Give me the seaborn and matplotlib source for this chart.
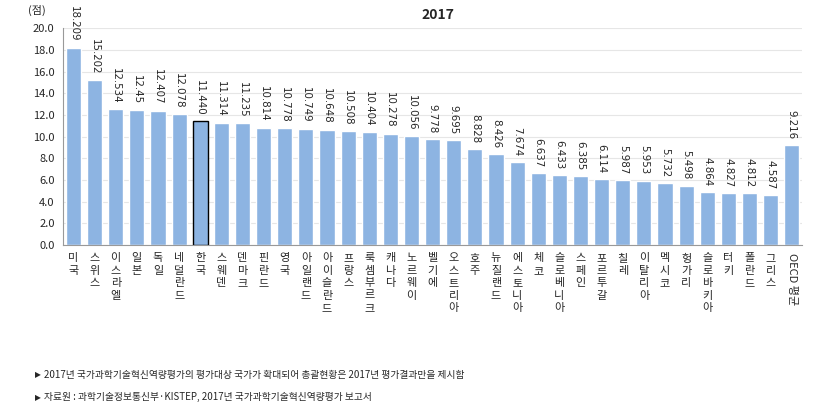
import numpy as np
import pandas as pd
import matplotlib
matplotlib.use('Agg')
import matplotlib.pyplot as plt
import seaborn as sns

countries = ['미국', '스위스', '이스라엘', '일본', '독일', '네덜란드', '한국', '스웨덴', '덴마크',
             '핀란드', '영국', '아일랜드', '아이슬란드', '프랑스', '룩셈부르크', '캐나다', '노르웨이',
             '벨기에', '오스트리아', '호주', '뉴질랜드', '에스토니아', '체코', '슬로베니아', '스페인',
             '포르투갈', '칠레', '이탈리아', '멕시코', '헝가리', '슬로바키아', '터키', '폴란드',
             '그리스', 'OECD 평균']
scores = [18.209, 15.202, 12.534, 12.45, 12.407, 12.078, 11.440, 11.314, 11.235,
          10.814, 10.778, 10.749, 10.648, 10.508, 10.404, 10.278, 10.056,
          9.778, 9.695, 8.828, 8.426, 7.674, 6.637, 6.433, 6.385,
          6.114, 5.987, 5.953, 5.732, 5.498, 4.864, 4.827, 4.812,
          4.587, 9.216]
score_labels = ['18.209', '15.202', '12.534', '12.45', '12.407', '12.078', '11.440', '11.314', '11.235',
                '10.814', '10.778', '10.749', '10.648', '10.508', '10.404', '10.278', '10.056',
                '9.778', '9.695', '8.828', '8.426', '7.674', '6.637', '6.433', '6.385',
                '6.114', '5.987', '5.953', '5.732', '5.498', '4.864', '4.827', '4.812',
                '4.587', '9.216']
notes = ['2017년 국가과학기술혁신역량평가의 평가대상 국가가 확대되어 총괄현황은 2017년 평가결과만을 제시함',
         '자료원 : 과학기술정보통신부·KISTEP, 2017년 국가과학기술혁신역량평가 보고서']

sns.set_style('white')
plt.rcParams['font.family'] = ['Noto Sans CJK KR', 'DejaVu Sans']

df = pd.DataFrame({'country': countries, 'score': scores})

fig = plt.figure(figsize=(8.28, 4.19), dpi=100)
ax = fig.add_axes([0.076, 0.415, 0.893, 0.517])

sns.barplot(data=df, x='country', y='score', color='#8db4e2', saturation=1, width=0.72, ax=ax)

# highlight Korea
ax.patches[countries.index('한국')].set_edgecolor('black')
ax.patches[countries.index('한국')].set_linewidth(1.0)

for i, (v, lab) in enumerate(zip(scores, score_labels)):
    ax.text(i, v + 0.55, lab, rotation=270, ha='center', va='bottom', fontsize=7.4,
            family=['DejaVu Sans'])

ax.set_ylim(0, 20)
ax.set_xlim(-0.5, len(countries) - 0.5)
ax.set_yticks(np.arange(0, 21, 2))
ax.set_yticklabels([f'{t:.1f}' for t in np.arange(0, 21, 2)], fontsize=8)
ax.yaxis.grid(True, color='#e6e6e6', linewidth=0.8)
ax.set_axisbelow(True)

# stacked korean labels
xl = []
for c in countries:
    if c.startswith('OECD'):
        xl.append(c)
    else:
        xl.append('\n'.join(list(c)))
ax.set_xticks(range(len(countries)))
ax.set_xticklabels(xl, fontsize=8, linespacing=1.3, va='top')
ax.get_xticklabels()[-1].set_rotation(270)
ax.tick_params(axis='x', which='major', length=0, pad=6)
ax.set_xticks(np.arange(-0.5, len(countries)), minor=True)
ax.tick_params(axis='x', which='minor', length=4, color='#999999', width=0.8, direction='out')
ax.tick_params(axis='y', length=4, color='#999999', width=0.8, direction='out', pad=2)

ax.set_xlabel('')
ax.set_ylabel('')
for s in ['top', 'right']:
    ax.spines[s].set_visible(False)
ax.spines['left'].set_color('#999999')
ax.spines['bottom'].set_color('#999999')

fig.text(0.034, 0.976, '(점)', fontsize=8, ha='left', va='center')
fig.text(0.529, 0.964, '2017', fontsize=10, fontweight='bold', ha='center', va='center')

fig.text(0.042, 0.105, '▶', fontsize=5.5, ha='left', va='center', family=['DejaVu Sans'])
fig.text(0.053, 0.105, notes[0], fontsize=7, ha='left', va='center')
fig.text(0.042, 0.052, '▶', fontsize=5.5, ha='left', va='center', family=['DejaVu Sans'])
fig.text(0.053, 0.052, notes[1], fontsize=7, ha='left', va='center')

fig.savefig('out.png', dpi=100)
